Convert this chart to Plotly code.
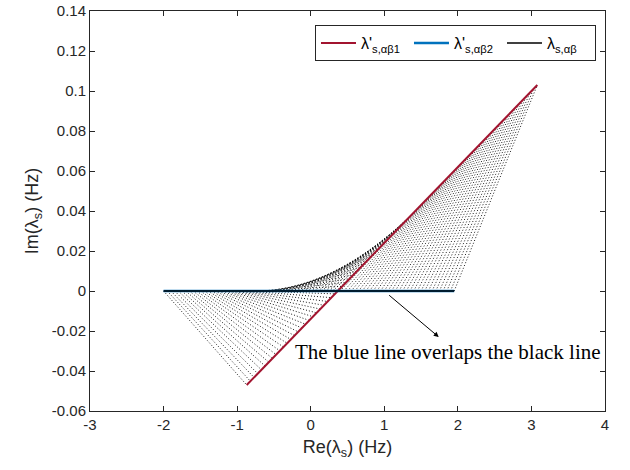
import numpy as np
import plotly.graph_objects as go

# ---- data ----
black_x = [-2.0, 1.95]          # lambda_s,ab (real axis segment)
black_y = [0.0, 0.0]
blue_x = [-2.0, 1.95]           # lambda'_s,ab2 (overlaps black)
blue_y = [0.0, 0.0]
red_x = [-0.87, 3.08]           # lambda'_s,ab1
red_y = [-0.047, 0.103]
n_links = 80                    # number of dotted links (one per sample point)

x_ticks = [-3, -2, -1, 0, 1, 2, 3, 4]
x_ticktext = ["-3", "-2", "-1", "0", "1", "2", "3", "4"]
y_ticks = [-0.06, -0.04, -0.02, 0, 0.02, 0.04, 0.06, 0.08, 0.10, 0.12, 0.14]
y_ticktext = ["-0.06", "-0.04", "-0.02", "0", "0.02", "0.04", "0.06", "0.08", "0.1", "0.12", "0.14"]

# ---- dotted links: each sample on the black line joined to its image on the red line ----
bx = np.linspace(black_x[0], black_x[1], n_links)
by = np.linspace(black_y[0], black_y[1], n_links)
rx = np.linspace(red_x[0], red_x[1], n_links)
ry = np.linspace(red_y[0], red_y[1], n_links)
fx, fy = [], []
for i in range(n_links):
    fx += [bx[i], rx[i], None]
    fy += [by[i], ry[i], None]

fig = go.Figure()
fig.add_trace(go.Scatter(x=fx, y=fy, mode="lines", showlegend=False,
                         line=dict(color="black", width=0.9, dash="1px,2px")))
fig.add_trace(go.Scatter(x=red_x, y=red_y, mode="lines", name="λ'<sub>s,αβ1</sub>",
                         line=dict(color="#A2142F", width=2)))
fig.add_trace(go.Scatter(x=blue_x, y=blue_y, mode="lines", name="λ'<sub>s,αβ2</sub>",
                         line=dict(color="#0072BD", width=2.5)))
fig.add_trace(go.Scatter(x=black_x, y=black_y, mode="lines", name="λ<sub>s,αβ</sub>",
                         line=dict(color="black", width=1.5)))

fig.add_annotation(x=1.74, y=-0.023, ax=1.046, ay=-0.0015, xref="x", yref="y",
                   axref="x", ayref="y", showarrow=True, arrowhead=2, arrowsize=1,
                   arrowwidth=1, arrowcolor="black", text="")
fig.add_annotation(x=1.86, y=-0.0305, xref="x", yref="y", showarrow=False,
                   text="The blue line overlaps the black line",
                   font=dict(family="Liberation Serif", size=21, color="black"))

axis_common = dict(showline=True, mirror="ticks", linecolor="#262626", linewidth=1,
                   ticks="inside", ticklen=5, tickcolor="#262626", showgrid=False,
                   zeroline=False, automargin=False, ticklabeloverflow="allow",
                   tickfont=dict(family="Liberation Sans", size=15, color="#262626"))
fig.update_xaxes(range=[-3, 4], tickvals=x_ticks, ticktext=x_ticktext,
                 title=dict(text="Re(λ<sub>s</sub>) (Hz)",
                            font=dict(family="Liberation Sans", size=18, color="#262626"), standoff=8),
                 **axis_common)
fig.update_yaxes(range=[-0.06, 0.14], tickvals=y_ticks, ticktext=y_ticktext,
                 title=dict(text="Im(λ<sub>s</sub>) (Hz)",
                            font=dict(family="Liberation Sans", size=18, color="#262626"), standoff=8),
                 **axis_common)
fig.update_layout(width=630, height=470, margin=dict(l=90, r=25, t=11, b=59),
                  plot_bgcolor="white", paper_bgcolor="white",
                  legend=dict(orientation="h", x=0.9825, y=0.965, xanchor="right", yanchor="top",
                              bgcolor="white", bordercolor="#262626", borderwidth=1,
                              font=dict(family="Liberation Sans", size=16, color="black"),
                              itemwidth=35, entrywidth=43, entrywidthmode="pixels",
                              tracegroupgap=0))
fig.write_html("out.html", config={"displayModeBar": False},
               post_script="document.body.style.margin='0px';")
